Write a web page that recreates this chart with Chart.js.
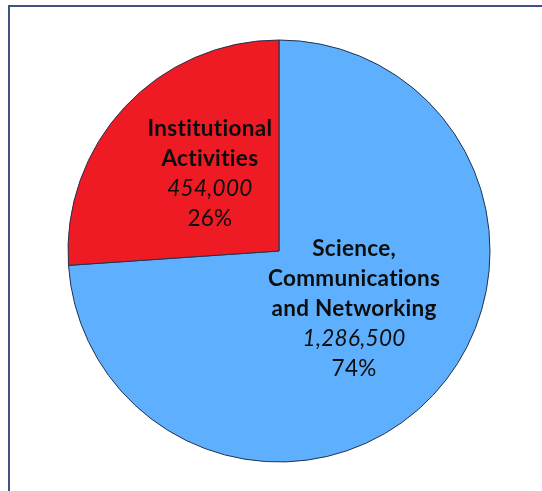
<!DOCTYPE html>
<html lang="en">
<head>
<meta charset="UTF-8">
<title>Budget split</title>
<script src="https://cdn.jsdelivr.net/npm/chart.js@4.4.0/dist/chart.umd.min.js"></script>
<style>
  html, body { margin: 0; padding: 0; background: #fff; }
  #wrap { position: relative; width: 542px; height: 491px; overflow: hidden; }
  #frame { position: absolute; left: 8px; top: 5px; width: 600px; height: 600px; border: 2px solid #3b5580; box-sizing: border-box; }
  #chart { position: absolute; left: 0; top: 0; }
</style>
</head>
<body>
<div id="wrap">
  <div id="frame"></div>
  <canvas id="chart" width="542" height="491"></canvas>
</div>

<script>
// data
const categories = ['Science, Communications and Networking', 'Institutional Activities'];
const labelLines = [['Science,', 'Communications', 'and Networking'], ['Institutional', 'Activities']];
const amounts = [1286500, 454000];
const colors = ['#5eb0fe', '#ee1b24'];

const total = amounts.reduce((a, b) => a + b, 0);

// where each label block sits: fraction of radius along the mid angle, plus a nudge
const labelPos = [
  { frac: 0.5, dx: -2, dy: -14 },
  { frac: 0.5, dx: 8, dy: -5 }
];

const sliceLabels = {
  id: 'sliceLabels',
  afterDatasetsDraw(chart) {
    const ctx = chart.ctx;
    const meta = chart.getDatasetMeta(0);
    meta.data.forEach((arc, i) => {
      const p = arc.getProps(['x', 'y', 'startAngle', 'endAngle', 'outerRadius'], true);
      const mid = (p.startAngle + p.endAngle) / 2;
      const r = p.outerRadius * labelPos[i].frac;
      const cx = p.x + Math.cos(mid) * r + labelPos[i].dx;
      const cy = p.y + Math.sin(mid) * r + labelPos[i].dy;

      const size = 22.5;
      const lines = labelLines[i].map(t => ({ text: t, font: 'bold ' + size + 'px Lato' }));
      lines.push({ text: amounts[i].toLocaleString('en-US'), font: 'italic ' + size + 'px Lato' });
      lines.push({ text: Math.round(amounts[i] / total * 100) + '%', font: size + 'px Lato' });

      const lh = 30;
      let y = cy - (lines.length - 1) * lh / 2;
      ctx.save();
      ctx.fillStyle = '#0d0d0d';
      ctx.textAlign = 'center';
      ctx.textBaseline = 'middle';
      ctx.letterSpacing = '0.3px';
      lines.forEach(l => {
        ctx.font = l.font;
        ctx.fillText(l.text, cx, y);
        y += lh;
      });
      ctx.restore();
    });
  }
};

new Chart(document.getElementById('chart'), {
  type: 'pie',
  data: {
    labels: categories,
    datasets: [{
      data: amounts,
      backgroundColor: colors,
      borderColor: '#22324f',
      borderWidth: 1
    }]
  },
  options: {
    responsive: false,
    animation: false,
    layout: { padding: { left: 67.5, right: 51.5, top: 39.5, bottom: 28.5 } },
    plugins: {
      legend: { display: false },
      tooltip: { enabled: false }
    }
  },
  plugins: [sliceLabels]
});
</script>
</body>
</html>
